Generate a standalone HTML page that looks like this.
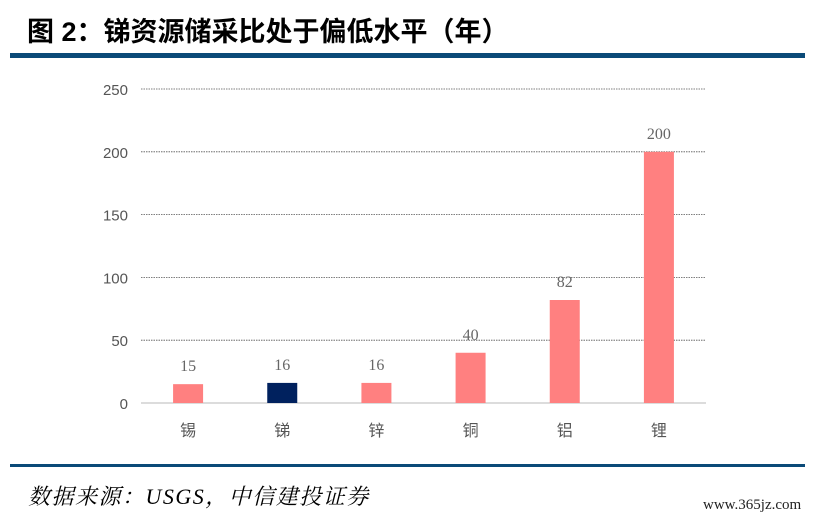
<!DOCTYPE html>
<html><head><meta charset="utf-8"><style>
body{margin:0;width:826px;height:522px;background:#fff;overflow:hidden;position:relative;font-family:"Liberation Sans","Noto Sans CJK SC",sans-serif}
#title{position:absolute;left:27px;top:10px;font-size:27px;font-weight:bold;color:#000;font-family:"Liberation Sans","Noto Sans CJK SC",sans-serif;white-space:nowrap}
.rule{position:absolute;left:10px;width:795px;background:#0b4a78}
#src{position:absolute;left:28px;top:480px;font-size:22px;font-style:italic;letter-spacing:1.5px;font-family:"Liberation Serif","Noto Serif CJK SC",serif;white-space:nowrap}
#wm{position:absolute;left:703px;top:497px;font-size:15px;color:#222;font-family:"Liberation Serif",serif}
svg{position:absolute;left:0;top:0}
</style></head><body>
<div id="title">图 2：锑资源储采比处于偏低水平（年）</div>
<div class="rule" style="top:53px;height:5px"></div>
<div class="rule" style="top:464px;height:3px"></div>
<div id="src">数据来源：USGS，中信建投证券</div>
<div id="wm">www.365jz.com</div>
<svg id="chart" width="826" height="522"></svg>
<script>
const categories=["锡","锑","锌","铜","铝","锂"];
const values=[15,16,16,40,82,200];
const highlight=[false,true,false,false,false,false];
const ticks=[0,50,100,150,200,250];
const svg=document.getElementById('chart');
const NS='http://www.w3.org/2000/svg';
const x0=141,x1=706,y0=403,y1=89,maxV=250;
const yS=v=>y0-(v/maxV)*(y0-y1);
const band=(x1-x0)/categories.length;
const xS=i=>x0+band*(i+0.5);
function mk(t,a){const e=document.createElementNS(NS,t);for(const k in a)e.setAttribute(k,a[k]);svg.appendChild(e);return e;}
ticks.forEach(t=>{
  const l=mk('line',{x1:x0,x2:x1,y1:yS(t),y2:yS(t),stroke:t===0?'#d0d0d0':'#555','stroke-width':t===0?1.5:0.8,'stroke-dasharray':t===0?'':'1.5,1'});
  
  
  const tx=mk('text',{x:128,y:yS(t)+6,'text-anchor':'end','font-size':15,fill:'#555','font-family':'Liberation Sans,sans-serif'});
  tx.textContent=t;
  
  
});
categories.forEach((c,i)=>{
  const bw=30,cx=xS(i);
  const r=mk('rect',{x:cx-bw/2,y:yS(values[i]),width:bw,height:y0-yS(values[i]),fill:highlight[i]?'#00215e':'#ff8080'});
  
  
  const v=mk('text',{x:cx,y:yS(values[i])-13,'text-anchor':'middle','font-size':16,fill:'#666','font-family':'Liberation Serif,serif'});
  v.textContent=values[i];
  
  
  const t=mk('text',{x:cx,y:436,'text-anchor':'middle','font-size':16,fill:'#555','font-family':'Noto Sans CJK SC,sans-serif'});
  t.textContent=c;
  
  
});
</script>
</body></html>
